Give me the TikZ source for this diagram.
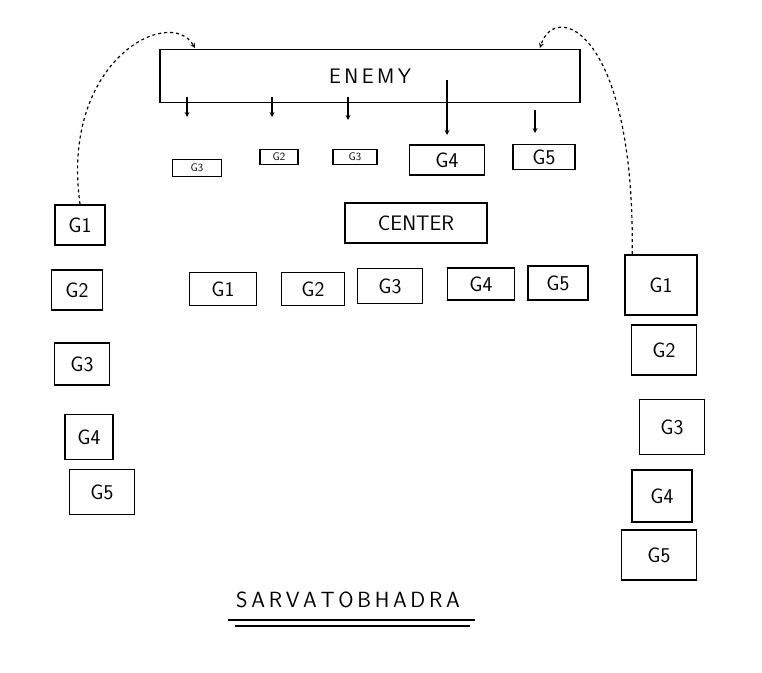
\documentclass[tikz,border=0pt]{standalone}
\usepackage{tikz}
\usetikzlibrary{positioning}
\tikzset{
  gbox/.style={rectangle, draw=black, line width=1.6pt, inner sep=0pt, font=\sffamily\fontsize{21}{24}\selectfont},
  sbox/.style={rectangle, draw=black, line width=1.6pt, inner sep=0pt, font=\sffamily\fontsize{11}{12}\selectfont},
  hit/.style={->, line width=1.2pt, >=stealth}
}
\begin{document}
\begin{tikzpicture}[x=1pt, y=-1pt]
\useasboundingbox (0,0) rectangle (762,672);

%%% ENEMY
\node [gbox, minimum width=420pt, minimum height=53pt] (enemy) at (370,76) {E\,N\,E\,M\,Y};

%%% front groups
\node [sbox, minimum width=49pt, minimum height=17pt] (f1) at (197,168) {G3};
\node [sbox, minimum width=38pt, minimum height=15pt] (f2) at (279,157) {G2};
\node [sbox, minimum width=44pt, minimum height=15pt] (f3) at (355,157) {G3};
\node [gbox, minimum width=75pt, minimum height=30pt] (f4) at (447,160) {G4};
\node [gbox, minimum width=62pt, minimum height=25pt] (f5) at (544,157) {G5};

%%% attack arrows
\draw [hit] (187,97) -- (187,117);
\draw [hit] (272,97) -- (272,117);
\draw [hit] (348,97) -- (348,120);
\draw [hit] (447,80) -- (447,135);
\draw [hit] (535,110) -- (535,133);

%%% CENTER
\node [gbox, minimum width=142pt, minimum height=40pt] (center) at (416,223) {CENTER};

%%% middle row
\node [gbox, minimum width=67pt, minimum height=33pt] (m1) at (223,289) {G1};
\node [gbox, minimum width=63pt, minimum height=33pt] (m2) at (313,289) {G2};
\node [gbox, minimum width=65pt, minimum height=35pt] (m3) at (390,286) {G3};
\node [gbox, minimum width=67pt, minimum height=32pt] (m4) at (481,284) {G4};
\node [gbox, minimum width=60pt, minimum height=34pt] (m5) at (558,283) {G5};

%%% left wing
\node [gbox, minimum width=50pt, minimum height=40pt] (l1) at (80,225) {G1};
\node [gbox, minimum width=51pt, minimum height=40pt] (l2) at (77,290) {G2};
\node [gbox, minimum width=55pt, minimum height=42pt] (l3) at (82,364) {G3};
\node [gbox, minimum width=48pt, minimum height=45pt] (l4) at (89,437) {G4};
\node [gbox, minimum width=65pt, minimum height=45pt] (l5) at (102,492) {G5};

%%% right wing
\node [gbox, minimum width=72pt, minimum height=60pt] (r1) at (661,285) {G1};
\node [gbox, minimum width=65pt, minimum height=50pt] (r2) at (664,350) {G2};
\node [gbox, minimum width=65pt, minimum height=55pt] (r3) at (672,427) {G3};
\node [gbox, minimum width=60pt, minimum height=52pt] (r4) at (662,496) {G4};
\node [gbox, minimum width=75pt, minimum height=50pt] (r5) at (659,555) {G5};

%%% flanking moves
\draw [hit, dashed] (l1.north) .. controls (60,60) and (170,5) .. (195,48);
\draw [hit, dashed] (r1.north west) ++(8,0) .. controls (635,30) and (555,0) .. (540,48);

%%% title
\node [font=\sffamily\fontsize{22}{24}\selectfont] (title) at (348,600) {S\,A\,R\,V\,A\,T\,O\,B\,H\,A\,D\,R\,A};
\draw [line width=1.4pt] (228,620) -- (475,620);
\draw [line width=1.4pt] (235,626) -- (470,626);

\end{tikzpicture}
\end{document}
